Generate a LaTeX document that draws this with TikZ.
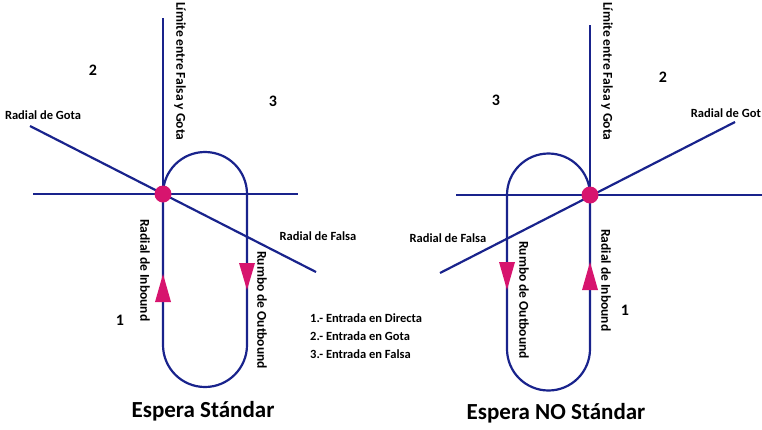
\documentclass[tikz,border=0pt]{standalone}
\usepackage{fontspec}
\setmainfont{Carlito}
\begin{document}
\begin{tikzpicture}[x=1pt,y=-1pt,
  ln/.style={draw={rgb,255:red,25;green,35;blue,140},line width=2.2pt},
  dotn/.style={circle,fill={rgb,255:red,215;green,20;blue,110},minimum size=17pt,inner sep=0pt},
  tri/.style={fill={rgb,255:red,215;green,20;blue,110}},
  lbl/.style={font=\bfseries\fontsize{12.5}{14}\selectfont,inner sep=1pt},
  num/.style={font=\bfseries\fontsize{16}{18}\selectfont},
  ttl/.style={font=\bfseries\fontsize{23}{26}\selectfont},
  vl/.style={lbl,font=\bfseries\fontsize{13.5}{15}\selectfont,rotate=-90,anchor=west}]
\useasboundingbox (0,0) rectangle (762,429);
% ---------- left ----------
\coordinate (LT) at (163,18);
\coordinate (LH1) at (33,194); \coordinate (LH2) at (298,194);
\coordinate (LG) at (30,126); \coordinate (LF) at (316,272);
\draw[ln] (LT) -- (163,194);
\draw[ln] (LH1) -- (LH2);
\draw[ln] (LG) -- (LF);
\draw[ln] (163,194) arc[start angle=180,end angle=360,radius=42] -- (247,345)
  arc[start angle=0,end angle=180,radius=42] -- cycle;
\node[dotn] (LC) at (163,194) {};
\fill[tri] (163,274) -- (155,302) -- (171,302) -- cycle;
\fill[tri] (247,290) -- (239,263) -- (255,263) -- cycle;
\node[vl] (Llim) at (180,1) {Límite entre Falsa y Gota};
\node[vl] (Linb) at (145,218) {Radial de Inbound};
\node[vl] (Lout) at (262,250) {Rumbo de Outbound};
\node[lbl] (Lgota) at (43,115) {Radial de Gota};
\node[lbl] (Lfal) at (318,236) {Radial de Falsa};
\node[num] (L2) at (93,70) {2};
\node[num] (L3) at (273,101) {3};
\node[num] (L1) at (120,320) {1};
\node[ttl] (Ltit) at (203,411) {Espera Stándar};
\node[lbl,anchor=west,align=left,font=\bfseries\fontsize{12.5}{18}\selectfont] (leg) at (309,336)
  {1.- Entrada en Directa\\2.- Entrada en Gota\\3.- Entrada en Falsa};
% ---------- right ----------
\coordinate (RT) at (590,25);
\coordinate (RH1) at (456,195); \coordinate (RH2) at (762,195);
\coordinate (RG) at (735,122); \coordinate (RF) at (440,273);
\draw[ln] (RT) -- (590,195);
\draw[ln] (RH1) -- (RH2);
\draw[ln] (RF) -- (RG);
\draw[ln] (590,195) arc[start angle=0,end angle=-180,radius=41.5] -- (507,349)
  arc[start angle=180,end angle=0,radius=41.5] -- cycle;
\node[dotn] (RC) at (590,195) {};
\fill[tri] (590,262) -- (582,290) -- (598,290) -- cycle;
\fill[tri] (507,290) -- (499,262) -- (515,262) -- cycle;
\node[vl] (Rlim) at (607,1) {Límite entre Falsa y Gota};
\node[vl] (Rinb) at (606,228) {Radial de Inbound};
\node[vl] (Rout) at (524,240) {Rumbo de Outbound};
\node[lbl,anchor=east] (Rgota) at (762,113) {Radial de Got};
\node[lbl] (Rfal) at (448,238) {Radial de Falsa};
\node[num] (R3) at (496,100) {3};
\node[num] (R2) at (663,77) {2};
\node[num] (R1) at (625,310) {1};
\node[ttl] (Rtit) at (556,413) {Espera NO Stándar};
\end{tikzpicture}
\end{document}
